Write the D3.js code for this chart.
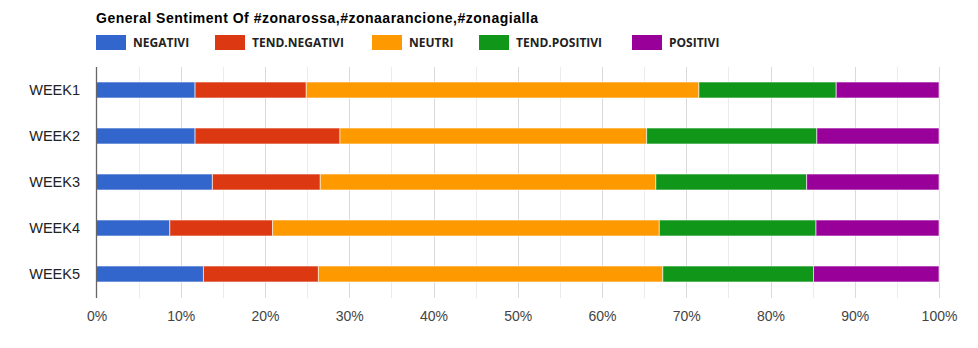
<!DOCTYPE html>
<html><head><meta charset="utf-8">
<script src="https://cdn.jsdelivr.net/npm/d3@7"></script>
<style>body{margin:0;background:#fff}svg{display:block}</style>
</head><body>
<svg id="c" width="978" height="348"></svg>
<script>
const title = "General Sentiment Of #zonarossa,#zonaarancione,#zonagialla";
const weeks = ["WEEK1","WEEK2","WEEK3","WEEK4","WEEK5"];
const seriesNames = ["NEGATIVI","TEND.NEGATIVI","NEUTRI","TEND.POSITIVI","POSITIVI"];
const colors = ["#3366cc","#dc3912","#ff9900","#109618","#990099"];
const negativi     = [11.7, 11.7, 13.75, 8.7, 12.7];
const tendNegativi = [13.2, 17.2, 12.8, 12.2, 13.65];
const neutri       = [46.6, 36.4, 39.8, 45.9, 40.9];
const tendPositivi = [16.3, 20.2, 17.9, 18.6, 17.9];
const positivi     = [12.2, 14.5, 15.7, 14.6, 14.9];
const tickValues = [0,10,20,30,40,50,60,70,80,90,100];

const seriesValues = [negativi, tendNegativi, neutri, tendPositivi, positivi];
const rows = weeks.map((w,i)=>{
  const r = {week:w};
  seriesNames.forEach((s,j)=> r[s]=seriesValues[j][i]);
  return r;
});
const stacked = d3.stack().keys(seriesNames).offset(d3.stackOffsetExpand)(rows);

const svg = d3.select("#c");
const x = d3.scaleLinear().domain([0,1]).range([96.5,939]);
const y = d3.scaleBand().domain(weeks).range([67,297]).paddingInner(0.652).paddingOuter(0.326);

// gridlines
const g = svg.append("g");
g.selectAll("line.minor").data(d3.range(0.05,1,0.1)).join("line")
  .attr("x1",d=>Math.round(x(d))+0.5).attr("x2",d=>Math.round(x(d))+0.5)
  .attr("y1",67).attr("y2",298).attr("stroke","#ebebeb");
g.selectAll("line.major").data(tickValues.slice(1).map(v=>v/100)).join("line")
  .attr("x1",d=>Math.round(x(d))+0.5).attr("x2",d=>Math.round(x(d))+0.5)
  .attr("y1",67).attr("y2",298).attr("stroke","#dadada");

// bars
svg.append("g").selectAll("g").data(stacked).join("g")
  .attr("fill",(d,i)=>colors[i])
  .selectAll("rect").data(d=>d).join("rect")
  .attr("x",d=>x(d[0])).attr("width",d=>x(d[1])-x(d[0]))
  .attr("y",d=>y(d.data.week)).attr("height",y.bandwidth())
  .attr("stroke","#fff").attr("stroke-opacity",0.6).attr("stroke-width",1);

// baseline axis
svg.append("line").attr("x1",96.5).attr("x2",96.5).attr("y1",67).attr("y2",298)
  .attr("stroke","#666").attr("stroke-width",1.3);

// x axis labels
const xa = d3.axisBottom(x).tickValues(tickValues.map(v=>v/100)).tickFormat(d3.format(".0%")).tickSize(0);
svg.append("g").attr("transform","translate(0,308)").call(xa)
  .call(s=>s.select(".domain").remove())
  .selectAll("text").attr("font-family","Liberation Sans, Arial, sans-serif")
  .attr("font-size",14).attr("fill","#444");

// y axis labels
const ya = d3.axisLeft(y).tickSize(0).tickPadding(16);
svg.append("g").attr("transform","translate(96,0)").call(ya)
  .call(s=>s.select(".domain").remove())
  .selectAll("text").attr("font-family","Liberation Sans, Arial, sans-serif")
  .attr("font-size",14.5).attr("fill","#222");

// title
svg.append("text").attr("x",96).attr("y",23).text(title)
  .attr("font-family","Liberation Sans, Arial, sans-serif").attr("font-weight","bold")
  .attr("font-size",14).attr("fill","#000")
  .attr("textLength",442).attr("lengthAdjust","spacing");

// legend
const legX = [96,215,372,479,632];
const lg = svg.append("g").selectAll("g").data(seriesNames).join("g")
  .attr("transform",(d,i)=>`translate(${legX[i]},35)`);
lg.append("rect").attr("width",30).attr("height",15).attr("fill",(d,i)=>colors[i]);
lg.append("text").attr("x",37).attr("y",12).text(d=>d)
  .attr("font-family","Open Sans, sans-serif").attr("font-weight","bold")
  .attr("font-size",12).attr("fill","#222");
</script>
</body></html>
